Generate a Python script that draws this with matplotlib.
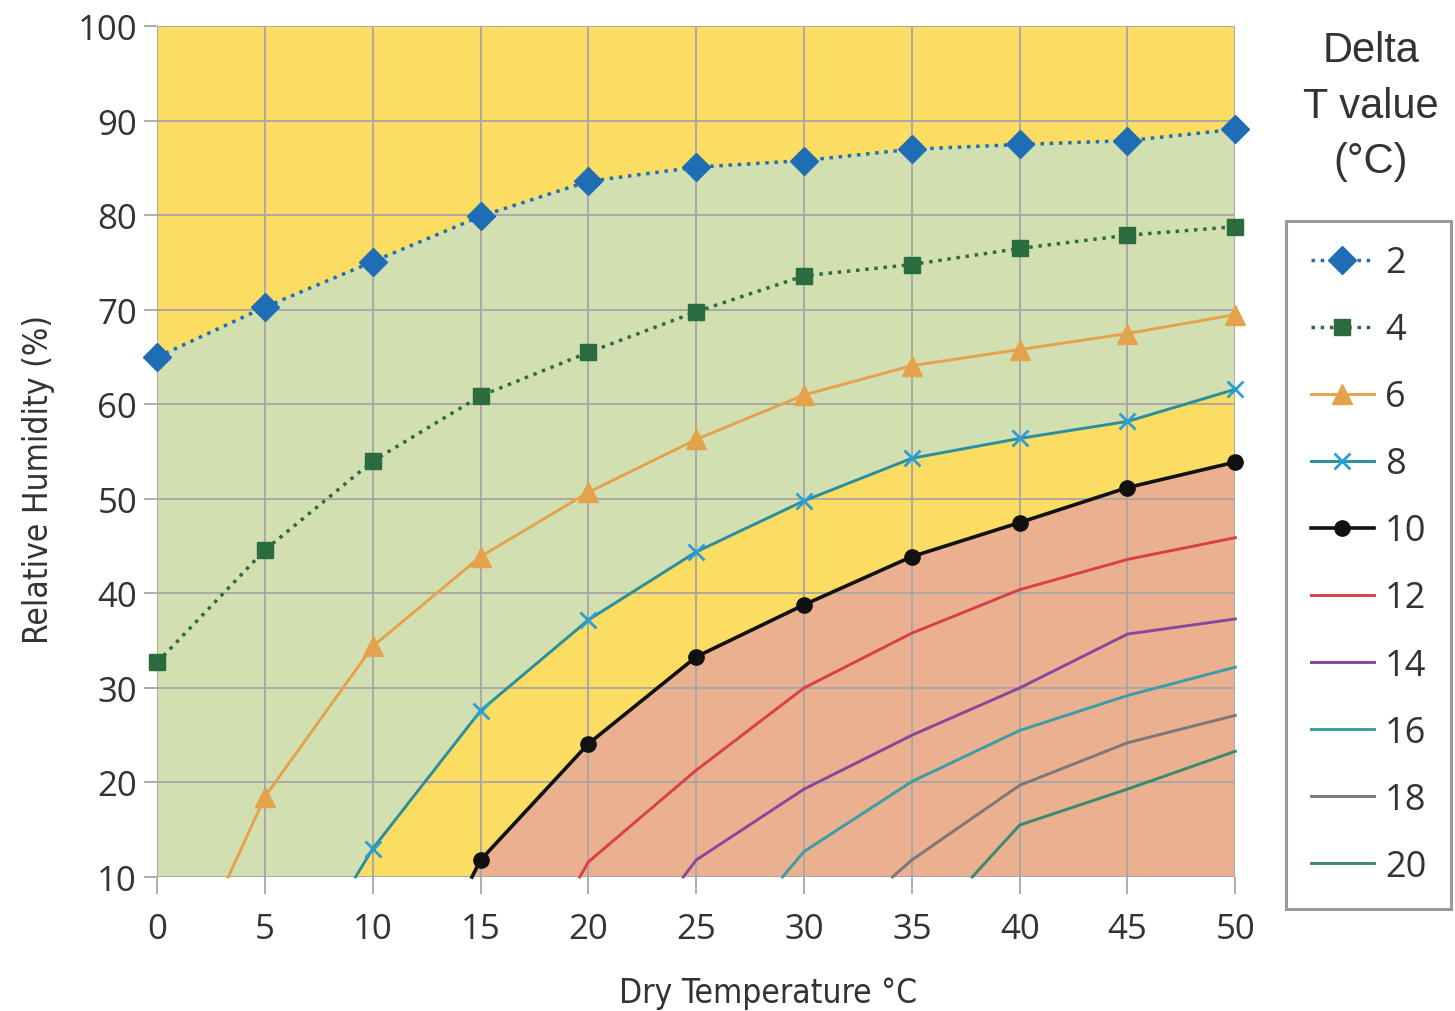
import matplotlib.pyplot as plt

# dry temperature (x) and relative humidity (y) for each Delta T curve
temps = [0, 5, 10, 15, 20, 25, 30, 35, 40, 45, 50]
rh_2 = [65.0, 70.3, 75.1, 79.9, 83.6, 85.1, 85.8, 87.0, 87.5, 87.9, 89.1]
rh_4 = [32.7, 44.6, 54.0, 60.9, 65.5, 69.8, 73.6, 74.8, 76.5, 77.9, 78.8]
x_6 = [3.3, 5, 10, 15, 20, 25, 30, 35, 40, 45, 50]
rh_6 = [10.0, 18.5, 34.4, 43.9, 50.7, 56.3, 61.0, 64.1, 65.8, 67.5, 69.5]
x_8 = [9.2, 10, 15, 20, 25, 30, 35, 40, 45, 50]
rh_8 = [10.0, 13.0, 27.6, 37.2, 44.4, 49.8, 54.3, 56.4, 58.2, 61.6]
x_10 = [14.6, 15, 20, 25, 30, 35, 40, 45, 50]
rh_10 = [10.0, 11.8, 24.1, 33.3, 38.8, 43.9, 47.5, 51.2, 53.9]
x_12 = [19.6, 20, 25, 30, 35, 40, 45, 50]
rh_12 = [10.0, 11.6, 21.3, 30.0, 35.8, 40.4, 43.6, 45.9]
x_14 = [24.4, 25, 30, 35, 40, 45, 50]
rh_14 = [10.0, 11.8, 19.3, 25.0, 30.0, 35.7, 37.3]
x_16 = [29.0, 30, 35, 40, 45, 50]
rh_16 = [10.0, 12.7, 20.1, 25.5, 29.2, 32.2]
x_18 = [34.1, 35, 40, 45, 50]
rh_18 = [10.0, 11.8, 19.7, 24.2, 27.1]
x_20 = [37.8, 40, 45, 50]
rh_20 = [10.0, 15.5, 19.3, 23.3]

x_ticks = [0, 5, 10, 15, 20, 25, 30, 35, 40, 45, 50]
y_ticks = [10, 20, 30, 40, 50, 60, 70, 80, 90, 100]

plt.rcParams['font.family'] = ['Open Sans', 'DejaVu Sans']

fig = plt.figure(figsize=(14.55, 10.12), dpi=100)
ax = fig.add_axes([0.108, 0.1324, 0.741, 0.8406])
ax.set_facecolor('#fadd62')

# green band between the 2 and 8 curves, salmon below the 10 curve
green_x = temps + x_8[::-1] + [0]
green_y = rh_2 + rh_8[::-1] + [10]
ax.fill(green_x, green_y, color='#d2e0b1', zorder=0.5, lw=0)
red_x = x_10 + [50]
red_y = rh_10 + [10]
ax.fill(red_x, red_y, color='#eab08f', zorder=1.5, lw=0)

ax.grid(True, color='#a9a4a6', lw=1.3, zorder=1)
ax.set_axisbelow(False)
for s in ax.spines.values():
    s.set_visible(False)

lw = 2.1
lines = [
    ax.plot(temps, rh_2, ':', color='#1f6db5', lw=2.5, marker='D', ms=14, label='2'),
    ax.plot(temps, rh_4, ':', color='#2b6b40', lw=2.5, marker='s', ms=12, label='4'),
    ax.plot(x_6, rh_6, '-', color='#e5a24c', lw=lw, marker='^', ms=14, markevery=list(range(1, 11)), label='6'),
    ax.plot(x_8, rh_8, '-', color='#2a8e9e', lw=lw, marker='x', ms=12, mew=2, mec='#2a9ed8', markevery=list(range(1, 10)), label='8'),
    ax.plot(x_10, rh_10, '-', color='#111111', lw=2.6, marker='o', ms=11, markevery=list(range(1, 9)), label='10'),
    ax.plot(x_12, rh_12, '-', color='#d8404a', lw=lw, label='12'),
    ax.plot(x_14, rh_14, '-', color='#86489a', lw=lw, label='14'),
    ax.plot(x_16, rh_16, '-', color='#3a9ea6', lw=lw, label='16'),
    ax.plot(x_18, rh_18, '-', color='#7a7878', lw=lw, label='18'),
    ax.plot(x_20, rh_20, '-', color='#3b8a70', lw=lw, label='20'),
]
for ln in lines:
    ln[0].set_zorder(4)
    ln[0].set_clip_on(False)

ax.set_xlim(0, 50)
ax.set_ylim(10, 100)
ax.set_xticks(x_ticks)
ax.set_yticks(y_ticks)
ax.tick_params(labelsize=25, colors='#a9a4a6', labelcolor='#333333', width=1.3)
ax.tick_params(axis='x', length=12, pad=13)
ax.tick_params(axis='y', length=9.5, pad=5)

cond = dict(family='DejaVu Sans', fontstretch='condensed')
ax.set_xlabel('Dry Temperature °C', fontsize=24, color='#333333', labelpad=22, **cond)
ax.set_ylabel('Relative Humidity (%)', fontsize=24, color='#333333', labelpad=16, **cond)
ax.xaxis.label.set_x(0.567)
ax.yaxis.label.set_y(0.468)

fig.text(0.942, 0.969, 'Delta\nT value\n(°C)', ha='center', va='top', fontsize=30,
         color='#333333', family=['Liberation Sans', 'DejaVu Sans'], linespacing=1.5)

leg = fig.legend(loc='upper left', bbox_to_anchor=(0.884, 0.781), fontsize=26,
                 handlelength=1.75, labelspacing=0.86, borderpad=0.68, handletextpad=0.3,
                 borderaxespad=0, fancybox=False, edgecolor='#999999', framealpha=1)
leg.get_frame().set_linewidth(2.2)
for t in leg.get_texts():
    t.set_color('#333333')

fig.savefig('out.png', dpi=100)
